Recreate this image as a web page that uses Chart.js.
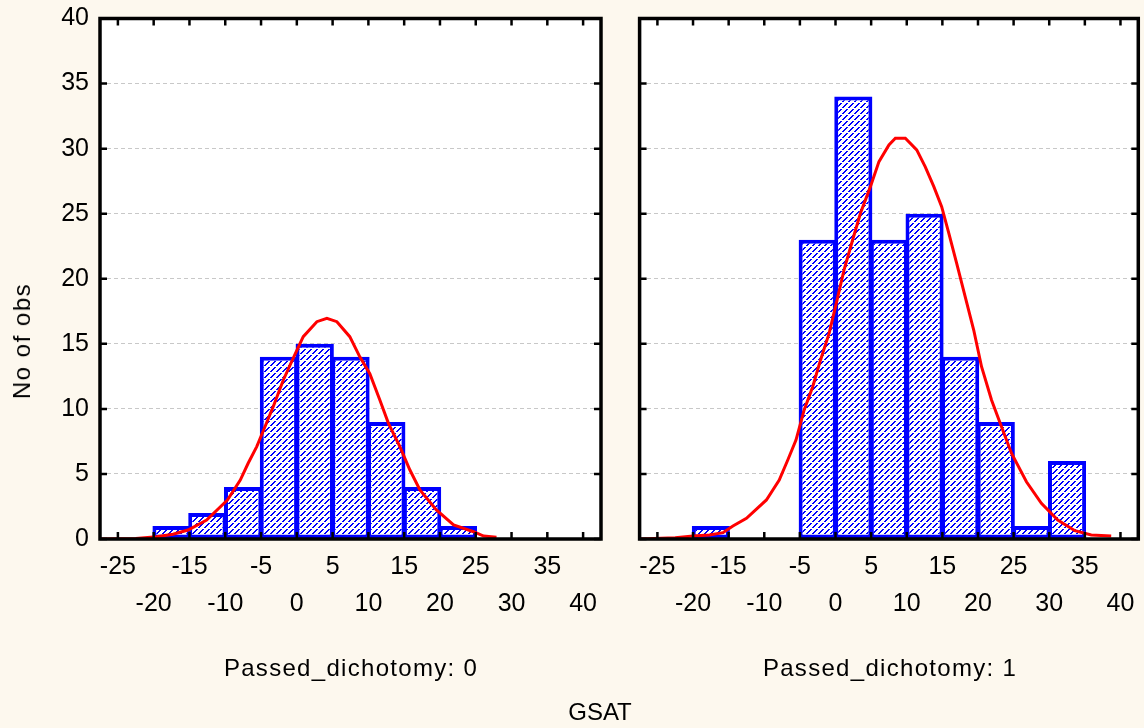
<!DOCTYPE html>
<html>
<head>
<meta charset="utf-8">
<script src="https://cdn.jsdelivr.net/npm/chart.js@4.4.1/dist/chart.umd.min.js"></script>
<style>
  html, body { margin: 0; padding: 0; background: #FDF8EE; }
  body { width: 1144px; height: 728px; position: relative; overflow: hidden;
         font-family: 'Liberation Sans', Arial, sans-serif; }
  .panel { position: absolute; top: 0; height: 728px; }
  #p0 { left: 0; width: 620px; }
  #p1 { left: 620px; width: 524px; }
  .lbl { position: absolute; color: #000; font-size: 24px; line-height: 1; white-space: nowrap; }
  #ytitle { left: 22px; top: 341px; transform: translate(-50%, -50%) rotate(-90deg); letter-spacing: 1.5px; }
  #xtitle { left: 600px; top: 712px; transform: translate(-50%, -50%); }
  .grp { top: 668px; transform: translate(-50%, -50%); letter-spacing: 1.3px; }
  #g0 { left: 351px; }
  #g1 { left: 890px; }
</style>
</head>
<body>
<div class="panel" id="p0"><canvas id="c0" width="620" height="728"></canvas></div>
<div class="panel" id="p1"><canvas id="c1" width="524" height="728"></canvas></div>
<div class="lbl" id="ytitle">No of obs</div>
<div class="lbl grp" id="g0"></div>
<div class="lbl grp" id="g1"></div>
<div class="lbl" id="xtitle">GSAT</div>
<script>
// Histogram bins (centre of each 5-point GSAT bin) and counts per group
const binCenters0 = [-17.5, -12.5, -7.5, -2.5, 2.5, 7.5, 12.5, 17.5, 22.5];
const counts0     = [1, 2, 4, 14, 15, 14, 9, 4, 1];
const binCenters1 = [-17.5, -2.5, 2.5, 7.5, 12.5, 17.5, 22.5, 27.5, 32.5];
const counts1     = [1, 23, 34, 23, 25, 14, 9, 1, 6];

// Fitted normal curve, sampled points per group
const fitX0 = [-27.5, -22.5, -19.6, -17.3, -15.2, -12.6, -9.7, -7.9, -6.8, -5.6, -4.45, -3.3, -1.9, -0.5, 0.9, 2.8, 4.2, 5.6, 7.4, 8.8, 10.2, 11.6, 12.8, 14.4, 15.8, 17.2, 19.5, 21.9, 24.7, 26.1, 27.9];
const fitY0 = [0.0, 0.03, 0.18, 0.36, 0.69, 1.46, 3.0, 4.53, 5.82, 7.1, 8.63, 10.17, 12.2, 13.9, 15.55, 16.7, 16.96, 16.7, 15.55, 14.0, 12.7, 10.68, 8.89, 7.1, 5.3, 3.77, 2.23, 1.08, 0.56, 0.23, 0.13];
const fitX1 = [-27.5, -22.5, -20.0, -17.7, -15.8, -14.4, -12.5, -9.7, -7.9, -6.7, -5.55, -4.4, -3.2, -2.1, -0.9, 0.0, 1.2, 2.4, 3.5, 4.9, 6.1, 7.5, 8.4, 9.8, 11.4, 12.6, 13.8, 14.9, 15.9, 17.0, 18.2, 19.4, 20.5, 21.9, 23.3, 24.7, 26.8, 28.9, 31.2, 33.6, 35.9, 38.7];
const fitY1 = [0.0, 0.1, 0.23, 0.31, 0.49, 1.0, 1.59, 3.0, 4.53, 6.07, 7.6, 9.92, 11.7, 13.76, 15.8, 17.86, 20.68, 22.98, 25.03, 27.08, 29.0, 30.28, 30.8, 30.8, 29.9, 28.6, 27.08, 25.54, 23.5, 21.2, 18.62, 16.06, 13.24, 10.68, 8.63, 6.59, 4.4, 2.74, 1.46, 0.64, 0.31, 0.23];

// Axis ticks and labels
const xTickValues = [-25, -20, -15, -10, -5, 0, 5, 10, 15, 20, 25, 30, 35, 40];
const xTickLabels = ['-25', '-20', '-15', '-10', '-5', '0', '5', '10', '15', '20', '25', '30', '35', '40'];
const yTickValues = [0, 5, 10, 15, 20, 25, 30, 35, 40];
const yTickLabels = ['0', '5', '10', '15', '20', '25', '30', '35', '40'];
const groupTitles = ['Passed_dichotomy: 0', 'Passed_dichotomy: 1'];

document.getElementById('g0').textContent = groupTitles[0];
document.getElementById('g1').textContent = groupTitles[1];

const FONT = "'Liberation Sans', Arial, sans-serif";
Chart.defaults.font.family = FONT;

// Diagonal dashed hatch ("/" stripes) used to fill the bars
function makeHatch() {
  const t = document.createElement('canvas');
  t.width = 6; t.height = 6;
  const g = t.getContext('2d');
  g.fillStyle = '#ffffff';
  g.fillRect(0, 0, 6, 6);
  g.fillStyle = '#0000ff';
  for (let i = 0; i < 6; i++) {
    if (i === 5) continue;
    g.fillRect(i, 5 - i, 1, 1);
    g.fillRect(i + 1, 5 - i, 1, 1);
  }
  return g.createPattern(t, 'repeat');
}

// White plot background, black frame and inward tick marks on all four sides
const framePlugin = {
  id: 'frame',
  beforeDraw(chart) {
    const a = chart.chartArea, c = chart.ctx;
    c.save();
    c.fillStyle = '#ffffff';
    c.fillRect(a.left, a.top, a.right - a.left, a.bottom - a.top);
    c.restore();
  },
  afterDraw(chart) {
    const a = chart.chartArea, c = chart.ctx;
    const xs = chart.scales.x, ys = chart.scales.y;
    c.save();
    c.strokeStyle = '#000000';
    c.lineWidth = 2.5;
    c.beginPath();
    xTickValues.forEach(v => {
      const px = xs.getPixelForValue(v);
      c.moveTo(px, a.top); c.lineTo(px, a.top + 7);
      c.moveTo(px, a.bottom); c.lineTo(px, a.bottom - 7);
    });
    yTickValues.forEach(v => {
      const py = ys.getPixelForValue(v);
      c.moveTo(a.left, py); c.lineTo(a.left + 7, py);
      c.moveTo(a.right, py); c.lineTo(a.right - 7, py);
    });
    c.stroke();
    c.lineWidth = 3.5;
    c.strokeRect(a.left, a.top, a.right - a.left, a.bottom - a.top);
    c.restore();
  }
};

function makeChart(id, centers, counts, fitX, fitY, showY, yWidth, padRight) {
  const hatch = makeHatch();
  return new Chart(document.getElementById(id), {
    type: 'bar',
    data: {
      datasets: [
        {
          type: 'line',
          data: fitX.map((x, i) => ({ x: x, y: fitY[i] })),
          borderColor: '#ff0000',
          borderWidth: 3,
          pointRadius: 0,
          tension: 0,
          fill: false,
          order: 0
        },
        {
          type: 'bar',
          data: centers.map((x, i) => ({ x: x, y: counts[i] })),
          backgroundColor: hatch,
          borderColor: '#0000ff',
          borderWidth: 4,
          borderSkipped: false,
          barPercentage: 1.07,
          categoryPercentage: 1,
          order: 1
        }
      ]
    },
    options: {
      responsive: false,
      animation: false,
      events: [],
      layout: { padding: { left: 0, top: 18.5, right: padRight, bottom: 39 } },
      plugins: { legend: { display: false }, tooltip: { enabled: false } },
      scales: {
        x: {
          type: 'linear',
          min: -27.5,
          max: 42.5,
          offset: false,
          afterBuildTicks: s => { s.ticks = xTickValues.map(v => ({ value: v })); },
          afterFit: s => { s.height = 150; },
          grid: { display: false, drawTicks: false, offset: false },
          border: { display: false },
          ticks: {
            autoSkip: false, maxRotation: 0, minRotation: 0, padding: 9.5, color: '#000',
            font: { family: FONT, size: 25, lineHeight: '37px' },
            callback: (v, i) => (i % 2 ? ['', xTickLabels[i]] : xTickLabels[i])
          }
        },
        y: {
          type: 'linear',
          min: 0,
          max: 40,
          afterBuildTicks: s => { s.ticks = yTickValues.map(v => ({ value: v })); },
          afterFit: s => { s.width = yWidth; s.paddingTop = 0; s.paddingBottom = 0; },
          grid: { color: '#c8c8c8', lineWidth: 1, drawTicks: false },
          border: { display: false, dash: [4, 3] },
          ticks: {
            display: showY, padding: 11, color: '#000',
            font: { family: FONT, size: 25 },
            callback: (v, i) => yTickLabels[i]
          }
        }
      }
    },
    plugins: [framePlugin]
  });
}

makeChart('c0', binCenters0, counts0, fitX0, fitY0, true, 100, 19);
makeChart('c1', binCenters1, counts1, fitX1, fitY1, false, 19.6, 3.5);
</script>
</body>
</html>
